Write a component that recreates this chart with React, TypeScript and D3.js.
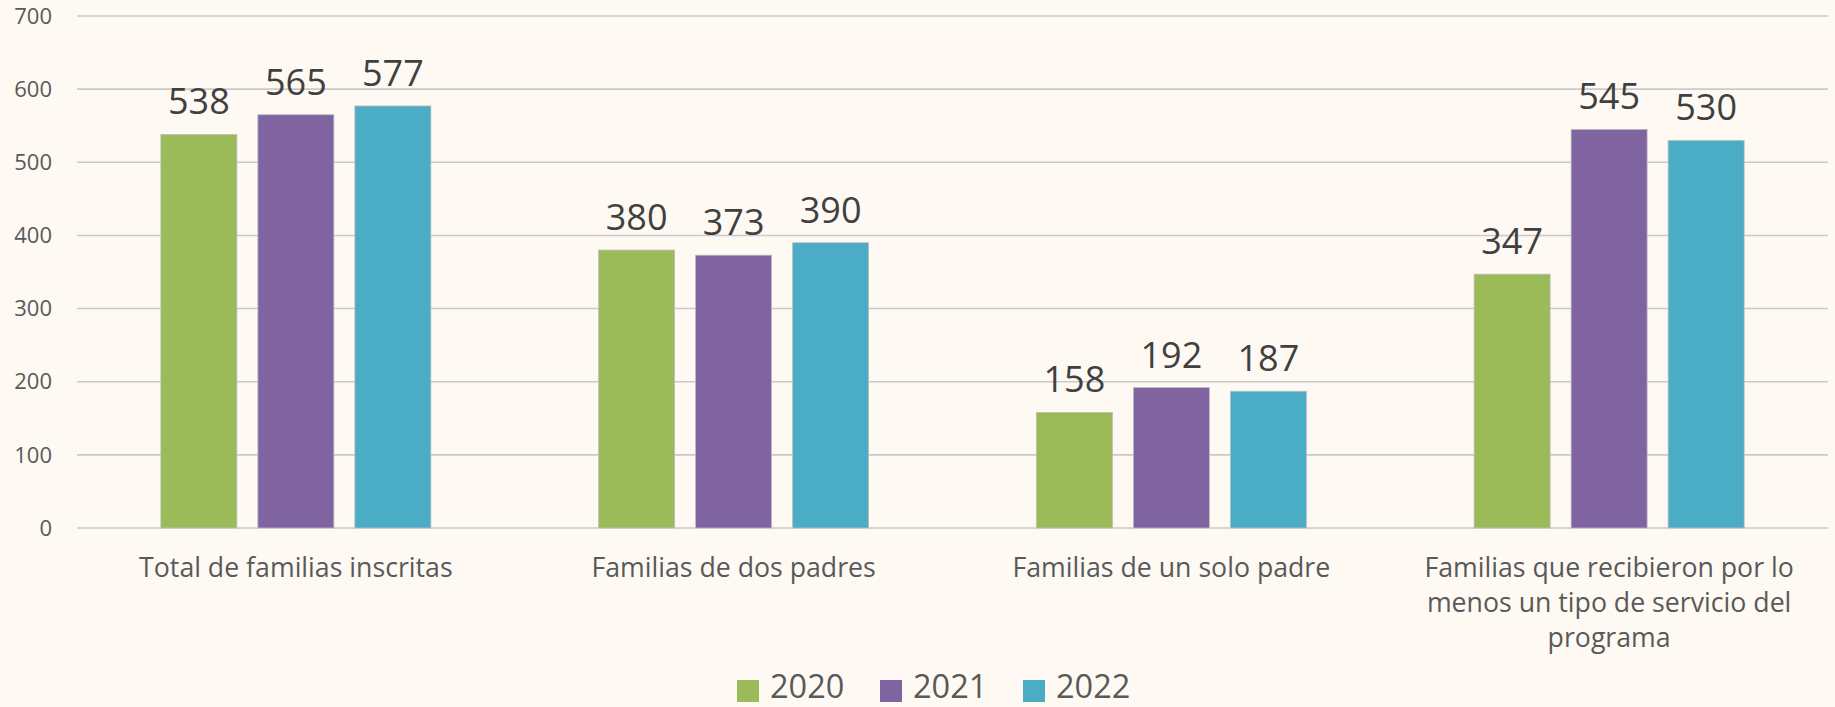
import React from "react";
import * as d3 from "d3";

const categories = [
  "Total de familias inscritas",
  "Familias de dos padres",
  "Familias de un solo padre",
  "Familias que recibieron por lo\nmenos un tipo de servicio del\nprograma",
];
const seriesNames = ["2020", "2021", "2022"];
const values2020 = [538, 380, 158, 347];
const values2021 = [565, 373, 192, 545];
const values2022 = [577, 390, 187, 530];
const seriesColors = ["#9BBB59", "#8064A2", "#4BACC6"];
const yTicks = [0, 100, 200, 300, 400, 500, 600, 700];

const W = 1835;
const H = 707;
const FONT = "'Open Sans', 'Noto Sans', sans-serif";

export default function App() {
  const allValues = [values2020, values2021, values2022];
  const left = 77;
  const right = 1828;
  const y = d3.scaleLinear().domain([0, 700]).range([528, 16]);
  const x0 = d3.scaleBand<string>().domain(categories).range([left, right]).padding(0);
  const x1 = d3
    .scaleBand<string>()
    .domain(seriesNames)
    .range([0, 270])
    .paddingInner(21 / 97)
    .paddingOuter(0);
  const off = (x0.bandwidth() - 270) / 2;

  return (
    <svg
      width={W}
      height={H}
      style={{ position: "absolute", left: 0, top: 0, background: "#FEF9F3" }}
      fontFamily={FONT}
    >
      <rect x={0} y={0} width={W} height={H} fill="#FEF9F3" />
      {yTicks.map((t) => (
        <g key={t}>
          <line x1={left} x2={right} y1={y(t)} y2={y(t)} stroke="#CACACA" strokeWidth={1.6} />
          <text x={52} y={y(t)} dy="0.35em" textAnchor="end" fontSize={22} fill="#595959">
            {t}
          </text>
        </g>
      ))}
      {categories.map((c, ci) => (
        <g key={c} transform={`translate(${(x0(c) as number) + off},0)`}>
          {seriesNames.map((s, si) => {
            const v = allValues[si][ci];
            const bx = x1(s) as number;
            return (
              <g key={s}>
                <rect
                  x={bx}
                  y={y(v)}
                  width={x1.bandwidth()}
                  height={y(0) - y(v)}
                  fill={seriesColors[si]}
                  stroke="#BDBDBD"
                  strokeWidth={0.8}
                />
                <text
                  x={bx + x1.bandwidth() / 2}
                  y={y(v) - 20}
                  textAnchor="middle"
                  fontSize={36}
                  fill="#404040"
                >
                  {v}
                </text>
              </g>
            );
          })}
        </g>
      ))}
      {categories.map((c) => {
        const cx = (x0(c) as number) + x0.bandwidth() / 2;
        return (
          <text key={c} textAnchor="middle" fontSize={26.7} fill="#595959">
            {c.split("\n").map((ln, i) => (
              <tspan key={i} x={cx} y={577 + i * 35}>
                {ln}
              </tspan>
            ))}
          </text>
        );
      })}
      {seriesNames.map((s, si) => (
        <g key={s} transform={`translate(${737 + si * 143},0)`}>
          <rect x={0} y={680} width={22} height={22} fill={seriesColors[si]} />
          <text x={33} y={698} fontSize={32.5} fill="#595959">
            {s}
          </text>
        </g>
      ))}
    </svg>
  );
}
